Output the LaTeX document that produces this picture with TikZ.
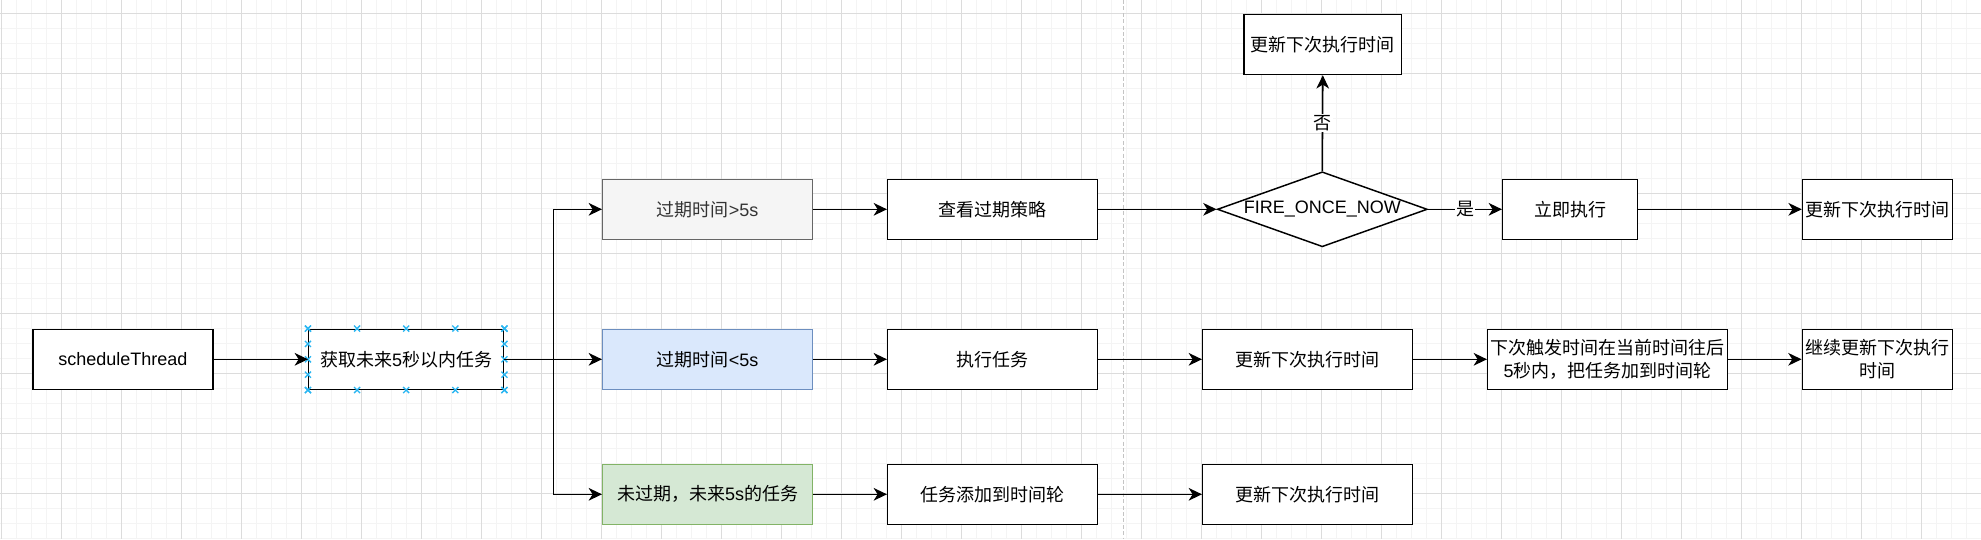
\documentclass[tikz,border=0pt]{standalone}
\usepackage{fontspec}
\setmainfont{Liberation Sans}
\newfontfamily\cjk{Noto Sans CJK SC}
\newcommand{\zh}[1]{{\cjk #1}}
\usepackage{xcolor}
\usepackage{tikz}
\usetikzlibrary{shapes.geometric,arrows.meta,calc}
\definecolor{gridminor}{HTML}{F4F4F4}
\definecolor{gridmajor}{HTML}{DCDCDC}
\definecolor{grayfill}{HTML}{F5F5F5}
\definecolor{graydraw}{HTML}{666666}
\definecolor{graytext}{HTML}{333333}
\definecolor{bluefill}{HTML}{DAE8FC}
\definecolor{bluedraw}{HTML}{6C8EBF}
\definecolor{greenfill}{HTML}{D5E8D4}
\definecolor{greendraw}{HTML}{82B366}
\definecolor{selblue}{HTML}{29B6F2}
\definecolor{sepgray}{HTML}{C4C4C4}

\begin{document}
\begin{tikzpicture}[x=0.75pt, y=-0.75pt,
    box/.style={draw, line width=1.1pt, fill=white, minimum height=45pt, inner sep=1pt, align=center, font=\fontsize{13.5}{16.8}\selectfont},
    graybox/.style={box, draw=graydraw, fill=grayfill, text=graytext},
    bluebox/.style={box, draw=bluedraw, fill=bluefill},
    greenbox/.style={box, draw=greendraw, fill=greenfill},
    decision/.style={diamond, draw, line width=1.1pt, fill=white, inner sep=0pt, minimum width=157.5pt, minimum height=56.25pt, font=\fontsize{13.5}{16.8}\selectfont},
    arr/.style={line width=1.15pt, -{Stealth[length=10pt, width=9.5pt, inset=3pt]}},
    lbl/.style={fill=white, inner sep=1pt, font=\fontsize{13.5}{16.8}\selectfont},
    selmark/.style={selblue, line width=1pt}]
    \useasboundingbox (0,0) rectangle (1981,539);
    \fill[white] (0,0) rectangle (1981,539);
    \foreach \gx in {1.7,16.7,...,1981} \draw[gridminor, line width=0.75pt] (\gx,0) -- (\gx,539);
    \foreach \gy in {-1.7,13.3,...,539} \draw[gridminor, line width=0.75pt] (0,\gy) -- (1981,\gy);
    \foreach \gx in {1.7,61.7,...,1981} \draw[gridmajor, line width=0.75pt] (\gx,0) -- (\gx,539);
    \foreach \gy in {13.3,73.3,...,539} \draw[gridmajor, line width=0.75pt] (0,\gy) -- (1981,\gy);
    \draw[sepgray, line width=1.1pt, dash pattern=on 3pt off 1.8pt] (1123.3,0) -- (1123.3,539);

    \node[box, minimum width=135pt] (sched) at (122.9,359.3) {scheduleThread};
    \node[box, minimum width=146.25pt] (get) at (406.2,359.3) {\zh{获取未来}5\zh{秒以内任务}};
    \coordinate (fork) at (553.3,359.3);
    \node[graybox, minimum width=157.5pt] (over) at (707.7,209.3) {\zh{过期时间}>5s};
    \node[bluebox, minimum width=157.5pt] (within) at (707.7,359.3) {\zh{过期时间}<5s};
    \node[greenbox, minimum width=157.5pt] (future) at (707.7,494.3) {\zh{未过期，未来}5s\zh{的任务}};
    \node[box, minimum width=157.5pt] (policy) at (992.7,209.3) {\zh{查看过期策略}};
    \node[box, minimum width=157.5pt] (run) at (992.7,359.3) {\zh{执行任务}};
    \node[box, minimum width=157.5pt] (addwheel) at (992.7,494.3) {\zh{任务添加到时间轮}};
    \node[decision] (fire) at (1322.3,209.3) {\makebox[0pt]{FIRE\_ONCE\_NOW}};
    \node[box, minimum width=118.1pt] (noupd) at (1322.8,44.5) {\zh{更新下次执行时间}};
    \node[box, minimum width=101.25pt] (now) at (1570.2,209.3) {\zh{立即执行}};
    \node[box, minimum width=112.5pt] (yesupd) at (1877.5,209.3) {\zh{更新下次执行时间}};
    \node[box, minimum width=157.5pt] (midupd) at (1307.7,359.3) {\zh{更新下次执行时间}};
    \node[box, minimum width=180pt] (wheel) at (1607.7,359.3) {\zh{下次触发时间在当前时间往后}\\5\zh{秒内，把任务加到时间轮}};
    \node[box, minimum width=112.5pt] (cont) at (1877.3,359.3) {\zh{继续更新下次执行}\\\zh{时间}};
    \node[box, minimum width=157.5pt] (lowupd) at (1307.7,494.3) {\zh{更新下次执行时间}};

    \foreach \t in {0,0.25,0.5,0.75,1}
        \foreach \a/\b in {north west/north east,south west/south east,north west/south west,north east/south east}
            \draw[selmark] ($(get.\a)!\t!(get.\b)$) +(-3,-3) -- +(3,3) +(-3,3) -- +(3,-3);

    \draw[arr] (sched) -- (get);
    \draw[arr] (get.east) -- (within.west);
    \draw[arr] (fork) |- (over.west);
    \draw[arr] (fork) |- (future.west);
    \draw[arr] (over) -- (policy);
    \draw[arr] (within) -- (run);
    \draw[arr] (future) -- (addwheel);
    \draw[arr] (policy) -- (fire.west);
    \draw[arr] (fire.north) -- node[lbl] {\zh{否}} (noupd.south);
    \draw[arr] (fire.east) -- node[lbl] {\zh{是}} (now.west);
    \draw[arr] (now) -- (yesupd);
    \draw[arr] (run) -- (midupd);
    \draw[arr] (midupd) -- (wheel);
    \draw[arr] (wheel) -- (cont);
    \draw[arr] (addwheel) -- (lowupd);
\end{tikzpicture}
\end{document}
